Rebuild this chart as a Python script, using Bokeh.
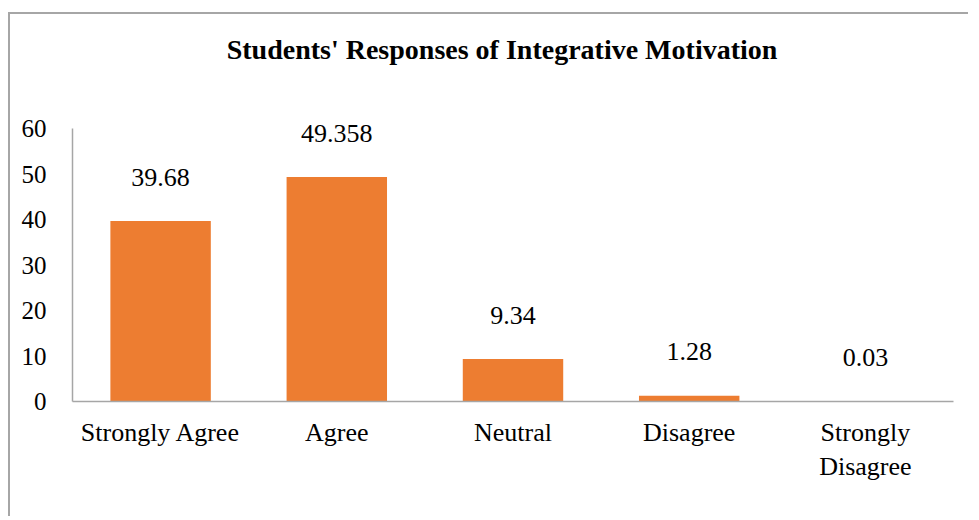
from bokeh.plotting import figure
from bokeh.models import ColumnDataSource, FactorRange, Range1d, FixedTicker, Label
from bokeh.core.properties import value
from bokeh.embed import file_html
from bokeh.resources import INLINE

categories = ["Strongly Agree", "Agree", "Neutral", "Disagree", "Strongly\nDisagree"]
percent = [39.68, 49.358, 9.34, 1.28, 0.03]
label_text = ["39.68", "49.358", "9.34", "1.28", "0.03"]
y_ticks = [0, 10, 20, 30, 40, 50, 60]
title_text = "Students' Responses of Integrative Motivation"

FONT = "Liberation Serif"
BAR = "#ED7D31"
GRAY = "#A6A6A6"

src = ColumnDataSource(dict(cat=categories, val=percent, lab=label_text))

p = figure(
    width=960, height=504,
    x_range=FactorRange(factors=categories, range_padding=0),
    y_range=Range1d(0, 84),
    output_backend="svg", toolbar_location=None,
    min_border_left=62, min_border_right=17,
    min_border_top=5, min_border_bottom=117,
)
p.styles = {"margin-top": "12px", "margin-left": "8px",
            "border-left": "2px solid #A6A6A6", "border-top": "2px solid #A6A6A6"}
p.outline_line_color = None
p.grid.grid_line_color = None
p.background_fill_color = "white"

p.vbar(x="cat", top="val", width=0.57, source=src, fill_color=BAR, line_color=None)
p.text(x="cat", y="val", text="lab", source=src, text_align="center", text_baseline="middle",
       y_offset=-44, text_font=value(FONT), text_font_size="26px", text_color="black")

p.yaxis.ticker = FixedTicker(ticks=y_ticks)
p.yaxis.bounds = (0, 60)
p.yaxis.major_tick_line_color = None
p.yaxis.minor_tick_line_color = None
p.yaxis.axis_line_color = GRAY
p.yaxis.axis_line_width = 1.5
p.yaxis.major_label_text_font = FONT
p.yaxis.major_label_text_font_size = "25px"
p.yaxis.major_label_text_color = "black"
p.yaxis.major_label_standoff = 20

p.xaxis.major_tick_line_color = None
p.xaxis.minor_tick_line_color = None
p.xaxis.axis_line_color = GRAY
p.xaxis.axis_line_width = 1.5
p.xaxis.major_label_text_font = FONT
p.xaxis.major_label_text_font_size = "26px"
p.xaxis.major_label_text_color = "black"
p.xaxis.major_label_standoff = 10

p.add_layout(Label(x=2.5, y=77.3, text=title_text, text_align="center", text_baseline="middle",
                   x_offset=-11, text_font=FONT, text_font_size="28px", text_font_style="bold",
                   text_color="black"))

open("out.html", "w").write(file_html(p, INLINE))
